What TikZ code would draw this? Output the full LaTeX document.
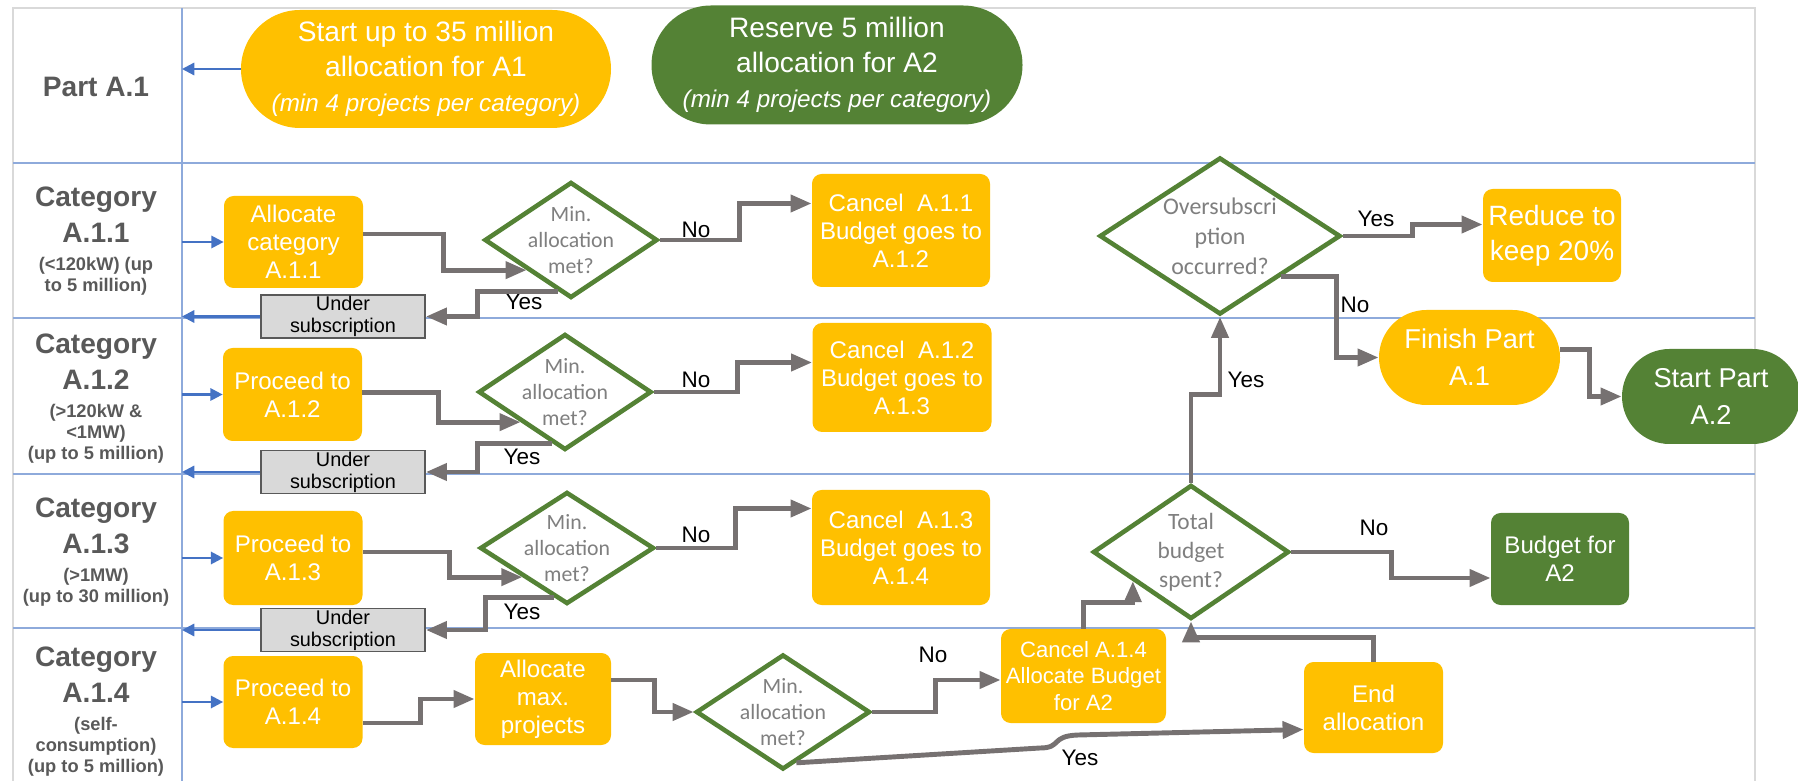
\documentclass[tikz,border=0pt]{standalone}
\usepackage{fontspec}
\setmainfont{Liberation Sans}
\newfontfamily\carlito{Carlito}
\usetikzlibrary{arrows.meta,positioning,shapes.geometric,shapes.misc,calc}
\definecolor{ygold}{HTML}{FFC000}
\definecolor{dgreen}{HTML}{548235}
\definecolor{agray}{HTML}{767171}
\definecolor{lblue}{HTML}{8EAADB}
\definecolor{ablue}{HTML}{4472C4}
\definecolor{tgray}{HTML}{595959}
\definecolor{dgray}{HTML}{7F7F7F}
\definecolor{ugray}{HTML}{D9D9D9}
\tikzset{
  ybox/.style={fill=ygold,rounded corners=5.5pt,text=white,align=center,inner sep=0pt,font=\fontsize{13.7}{15.9}\selectfont},
  gbox/.style={ybox,fill=dgreen},
  yoval/.style={rounded rectangle,fill=ygold,text=white,align=center,inner sep=0pt,font=\fontsize{15.5}{21}\selectfont},
  goval/.style={yoval,fill=dgreen},
  dec/.style={diamond,draw=dgreen,line width=2.6pt,fill=white,inner sep=0pt},
  dectxt/.style={align=center,text=dgray,inner sep=0pt,font=\carlito\fontsize{12.4}{14.6}\selectfont},
  ubox/.style={draw=tgray,fill=ugray,line width=1pt,align=center,inner sep=0pt,minimum width=32.8mm,minimum height=8.6mm,font=\fontsize{11.3}{12.5}\selectfont},
  lbl/.style={inner sep=0pt,font=\fontsize{12.8}{15}\selectfont},
  flow/.style={draw=agray,line width=2.8pt,-{Triangle[length=12pt,width=9.5pt]}},
  barr/.style={draw=ablue,line width=1.3pt,-{Triangle[length=7pt,width=7pt]}},
  lane/.style={draw=lblue,line width=1pt},
  cattitle/.style={align=center,text=tgray,inner sep=0pt,font=\bfseries\fontsize{16}{20.4}\selectfont},
  catsub/.style={align=center,text=tgray,inner sep=0pt,font=\bfseries\fontsize{10.4}{11.9}\selectfont},
}
\begin{document}
\begin{tikzpicture}[x=0.2mm,y=-0.2mm]
\useasboundingbox (0,0) rectangle (1798,781);
% swimlanes
\draw[draw=ugray,line width=0.8pt] (13,800) -- (13,8) -- (1755,8) -- (1755,800);
\foreach \ly in {163,318,474,628} {\draw[lane] (13,\ly) -- (1755,\ly);}
\coordinate (vl) at (182,8);
\draw[lane] (vl) -- (182,800);
\node[cattitle] (pa1) at (96,87) {Part A.1};
\foreach \ty/\nm/\dsc [count=\i] in {208/A.1.1/{(<120kW) (up\\to 5 million)},355/A.1.2/{(>120kW \&\\<1MW)\\(up to 5 million)},519/A.1.3/{(>1MW)\\(up to 30 million)},668/A.1.4/{(self-\\consumption)\\(up to 5 million)}}
{\node[cattitle,anchor=north] (cat\i) at (96,\ty-21) {Category\\\nm}; \node[catsub,anchor=north] (sub\i) at (96,\ty+49) {\dsc};}

% start / end ovals
\node[yoval,minimum width=74mm,minimum height=23.6mm,font=\fontsize{16}{19.8}\selectfont] (st) at (426,69) {Start up to 35 million\\allocation for A1\\{\fontsize{13.8}{16}\itshape (min 4 projects per category)}};
\node[goval,minimum width=74.2mm,minimum height=23.8mm,font=\fontsize{16}{19.8}\selectfont] (rv) at (837,65) {Reserve 5 million\\allocation for A2\\{\fontsize{13.8}{16}\itshape (min 4 projects per category)}};
\node[yoval,minimum width=36.2mm,minimum height=19mm] (fin) at (1469.5,357.5) {Finish Part\\A.1};
\node[goval,minimum width=35.6mm,minimum height=19mm] (sa2) at (1711,396.5) {Start Part\\A.2};

% process boxes
\node[ybox,minimum width=27.8mm,minimum height=18.4mm] (ac) at (293.5,242) {Allocate\\category\\A.1.1};
\node[ybox,minimum width=27.8mm,minimum height=18.6mm] (p2) at (292.5,394.5) {Proceed to\\A.1.2};
\node[ybox,minimum width=27.8mm,minimum height=18.8mm] (p3) at (293,558) {Proceed to\\A.1.3};
\node[ybox,minimum width=27.8mm,minimum height=18.4mm] (p4) at (293,702) {Proceed to\\A.1.4};
\node[ybox,minimum width=27.2mm,minimum height=18.4mm] (am) at (543,699) {Allocate\\max.\\projects};
\node[ybox,minimum width=35.6mm,minimum height=22.6mm] (c1) at (901,230.5) {Cancel\ \ A.1.1\\Budget goes to\\A.1.2};
\node[ybox,minimum width=35.8mm,minimum height=21.8mm] (c2) at (902,377.5) {Cancel\ \ A.1.2\\Budget goes to\\A.1.3};
\node[ybox,minimum width=35.6mm,minimum height=23mm] (c3) at (901,547.5) {Cancel\ \ A.1.3\\Budget goes to\\A.1.4};
\node[ybox,minimum width=33mm,minimum height=18.8mm,font=\fontsize{12.6}{15}\selectfont] (c4) at (1083.5,676) {Cancel A.1.4\\Allocate Budget\\for A2};
\node[ybox,minimum width=27.6mm,minimum height=18.6mm,font=\fontsize{15.9}{19.8}\selectfont] (red) at (1552,235.5) {Reduce to\\keep 20\%};
\node[gbox,minimum width=27.6mm,minimum height=18.4mm] (bA2) at (1560,559) {Budget for\\A2};
\node[ybox,minimum width=27.8mm,minimum height=18.2mm] (eal) at (1373.5,707.5) {End\\allocation};
\node[ubox] (u1) at (343,316.5) {Under\\subscription};
\node[ubox] (u2) at (343,472) {Under\\subscription};
\node[ubox] (u3) at (343,630) {Under\\subscription};

% decisions
\node[dec,minimum width=34.6mm,minimum height=23.2mm] (d1) at (571,240) {};
\node[dec,minimum width=34.6mm,minimum height=23.2mm] (d2) at (565,392) {};
\node[dec,minimum width=34.8mm,minimum height=22.4mm] (d3) at (567,548) {};
\node[dec,minimum width=34.8mm,minimum height=23mm] (d4) at (783,712) {};
\node[dec,minimum width=48.2mm,minimum height=31.4mm] (ov) at (1220,236) {};
\node[dec,minimum width=39.2mm,minimum height=26.8mm] (tb) at (1191,552) {};
\foreach \d in {d1,d2,d3,d4} {\node[dectxt] (\d t) at (\d) {Min.\\allocation\\met?};}
\node[dectxt,font=\carlito\fontsize{13.6}{17}\selectfont] (ovt) at (ov) {Oversubscri\\ption\\occurred?};
\node[dectxt,font=\carlito\fontsize{13.3}{16.4}\selectfont] (tbt) at (tb) {Total\\budget\\spent?};

% yes / no labels
\foreach \lx/\lyy/\lt [count=\k] in {696/230/No,696/380/No,696/535/No,933/655/No,1374/528/No,1355/305/No,524/302/Yes,522/457/Yes,522/612/Yes,1080/758/Yes,1246/380/Yes,1376/219/Yes}
{\node[lbl] (lb\k) at (\lx,\lyy) {\lt};}

% blue lane arrows
\draw[barr] (st.west) -- (st.west -| vl);
\foreach \b in {ac,p2,p3,p4} {\draw[barr] (vl |- \b.west) -- (\b.west);}
\foreach \b in {u1,u2,u3} {\draw[barr] (\b.west) -- (vl |- \b.west);}

% flow
\draw[flow] ($(ac.east)+(0,-8)$) -- ++(80,0) |- (d1.south west);
\draw[flow] ($(p2.east)+(0,-2)$) -- ++(76,0) |- (d2.south west);
\draw[flow] ($(p3.east)+(0,-6)$) -- ++(87,0) |- (d3.south west);
\draw[flow] ($(p4.east)+(0,21)$) -- ++(58,0) |- (am.west);
\draw[flow] ($(am.east)+(0,-19)$) -- ++(43,0) |- (d4.west);
\draw[flow] ($(d1.west)!0.85!(d1.south)$) -- ++(-80,0) |- (u1.east);
\draw[flow] ($(d2.west)!0.85!(d2.south)$) -- ++(-74,0) |- (u2.east);
\draw[flow] ($(d3.west)!0.85!(d3.south)$) -- ++(-68,0) |- (u3.east);
\draw[flow] (d1.east) -- ++(80,0) |- ($(c1.west)+(0,-27)$);
\draw[flow] (d2.east) -- ++(84,0) |- ($(c2.west)+(0,-15)$);
\draw[flow] (d3.east) -- ++(79,0) |- ($(c3.west)+(0,-39)$);
\draw[flow] (d4.east) -- ++(63,0) |- ($(c4.west)+(0,4)$);
\draw[flow] (c4.north) -- ++(0,-26) -| ($(tb.west)!0.42!(tb.south)$);
\draw[flow] ($(d4.south)!0.15!(d4.east)$) -- (1040,748) .. controls (1062,748) and (1050,736) .. (1078,735) -- ($(eal.west)+(0,22)$);
\draw[flow] (eal.north) -- ++(0,-24) -| (tb.south);
\draw[flow] (tb.east) -- ++(100,0) |- ($(bA2.west)+(0,19)$);
\draw[flow] (tb.north) -- ++(0,-88) -| (ov.south);
\draw[flow] (ov.east) -- ++(70,0) |- ($(red.west)+(0,-11)$);
\draw[flow] (ov.south east) -- ++(55,0) |- (fin.west);
\draw[flow] ($(fin.east)+(0,-8)$) -- ++(29,0) |- (sa2.west);
\end{tikzpicture}
\end{document}
